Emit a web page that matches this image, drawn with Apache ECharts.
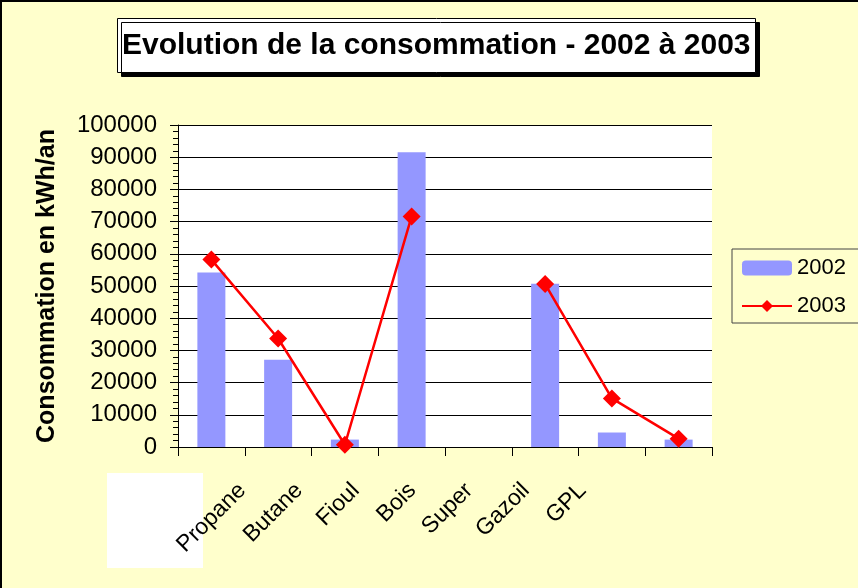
<!DOCTYPE html>
<html>
<head>
<meta charset="utf-8">
<script src="https://cdn.jsdelivr.net/npm/echarts@6/dist/echarts.min.js"></script>
<style>
  html, body { margin: 0; padding: 0; background: #ffffcc; }
  #chart { width: 858px; height: 588px; }
</style>
</head>
<body>
<div id="chart"></div>
<script>
// categories (the first one has no label in the original)
const categories = ['', 'Propane', 'Butane', 'Fioul', 'Bois', 'Super', 'Gazoil', 'GPL'];
const values2002 = [54200, 27100, 2300, 91500, 0, 50700, 4500, 2300];
const values2003 = [58200, 33700, 700, 71600, null, 50600, 15100, 2600];
const yTicks = { min: 0, max: 100000, interval: 10000 };

const font = '"Liberation Sans", Arial, sans-serif';

const myChart = echarts.init(document.getElementById('chart'));

const option = {
  backgroundColor: '#ffffcc',
  animation: false,
  textStyle: { fontFamily: font, color: '#000' },
  title: {
    text: 'Evolution de la consommation - 2002 à 2003',
    left: 117,
    top: 18,
    padding: [13, 5, 12, 5],
    backgroundColor: '#fff',
    borderColor: '#000',
    borderWidth: 1,
    shadowColor: '#000',
    shadowOffsetX: 4,
    shadowOffsetY: 4,
    shadowBlur: 0,
    textStyle: { fontFamily: font, fontSize: 30, fontWeight: 'bold', color: '#000' }
  },
  legend: {
    left: 732,
    top: 249,
    orient: 'vertical',
    padding: [8, 40, 6, 9],
    itemWidth: 50,
    itemHeight: 15,
    itemGap: 16,
    borderColor: '#444',
    borderWidth: 1,
    textStyle: { fontFamily: font, fontSize: 22, color: '#000' },
    data: ['2002', '2003']
  },
  graphic: [
    {
      type: 'rect',
      shape: { x: 107, y: 473, width: 96, height: 95 },
      style: { fill: '#fff' }
    },
    {
      type: 'rect',
      shape: { x: 1, y: 1, width: 1000, height: 1000 },
      style: { fill: 'none', stroke: '#000', lineWidth: 2 }
    }
  ],
  grid: [
    { left: 178, right: 146, top: 125, bottom: 141, backgroundColor: '#fff', show: true, borderWidth: 0 },
    { left: 214, width: 397, top: 125, bottom: 141 }
  ],
  xAxis: [
    {
      type: 'category',
      data: categories,
      gridIndex: 0,
      axisLine: { lineStyle: { color: '#000', width: 1 } },
      axisTick: { show: true, length: 9, inside: false, lineStyle: { color: '#000' } },
      axisLabel: { show: false }
    },
    {
      type: 'category',
      data: categories.slice(1),
      gridIndex: 1,
      axisLine: { show: false },
      axisTick: { show: false },
      axisLabel: { rotate: 45, margin: 40, fontSize: 23, fontFamily: font, color: '#000' }
    }
  ],
  yAxis: [
    {
      type: 'value',
      gridIndex: 0,
      min: yTicks.min,
      max: yTicks.max,
      interval: yTicks.interval,
      name: 'Consommation en kWh/an',
      nameLocation: 'middle',
      nameGap: 118,
      nameTextStyle: { fontFamily: font, fontSize: 25, fontWeight: 'bold', color: '#000' },
      axisLine: { show: true, lineStyle: { color: '#000' } },
      axisTick: { show: true, length: 8, lineStyle: { color: '#000' } },
      minorTick: { show: true, splitNumber: 5, length: 5, lineStyle: { color: '#000' } },
      axisLabel: {
        fontSize: 24,
        fontFamily: font,
        color: '#000',
        margin: 21,
        formatter: function (v) { return String(v); }
      },
      splitLine: { show: true, lineStyle: { color: '#000', width: 1 } }
    },
    {
      type: 'value',
      gridIndex: 1,
      show: false
    }
  ],
  series: [
    {
      name: '2002',
      type: 'bar',
      xAxisIndex: 0,
      yAxisIndex: 0,
      barWidth: 28,
      itemStyle: { color: '#9497ff' },
      data: values2002
    },
    {
      name: '2003',
      type: 'line',
      xAxisIndex: 0,
      yAxisIndex: 0,
      symbol: 'diamond',
      symbolSize: 18,
      connectNulls: false,
      lineStyle: { color: '#ff0000', width: 2.5 },
      itemStyle: { color: '#ff0000' },
      data: values2003
    }
  ]
};

myChart.setOption(option);
</script>
</body>
</html>
